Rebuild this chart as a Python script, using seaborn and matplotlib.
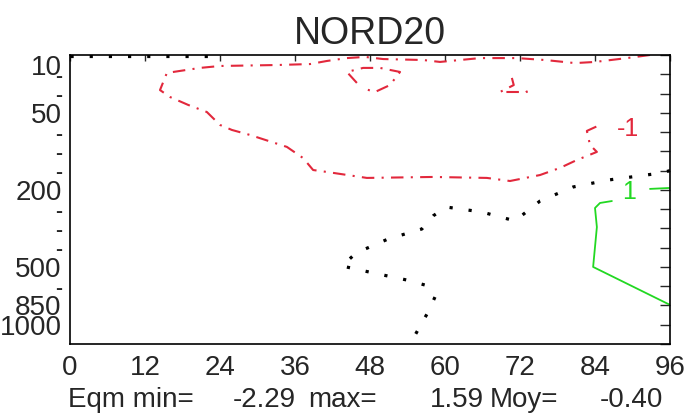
import pandas as pd
import matplotlib
matplotlib.use('Agg')
import matplotlib.pyplot as plt
import seaborn as sns

# Echeances (h) et niveaux (indice de niveau, 0 = 10 hPa en haut)
x_ticks = [0, 12, 24, 36, 48, 60, 72, 84, 96]
lev_labels = ['10', '-', '-', '50', '-', '-', '-', '200', '-', '-', '-', '500', '-', '850', '1000', '']

# Isoligne -1 (rouge, tirets-points)
m1_x = [92.8, 89.1, 84.0, 80.8, 76.0, 71.5, 65.6, 62.4, 59.2, 56.5, 50.1, 47.2, 44.3, 41.1, 38.4, 33.1,
        24.0, 20.8, 15.5, 14.4, 16.0, 18.9, 21.9, 24.0, 25.9, 28.8, 34.7, 37.3, 38.9, 41.1, 47.5, 58.1,
        66.7, 70.4, 75.2, 78.4, 81.1, 84.3, 83.2, 82.7, 84.8]
m1_lev = [0.0, 0.16, 0.36, 0.42, 0.26, 0.16, 0.16, 0.26, 0.36, 0.26, 0.21, 0.10, 0.16, 0.31, 0.47, 0.52,
          0.57, 0.67, 0.93, 1.82, 2.18, 2.59, 2.96, 3.63, 3.89, 4.15, 4.77, 5.35, 5.97, 6.07, 6.38, 6.33,
          6.38, 6.54, 6.23, 5.86, 5.45, 5.03, 4.67, 3.94, 3.63]

# Isolignes -2 (petites zones)
m2a_x = [45.9, 44.3, 46.9, 49.6, 52.8, 51.2, 48.8, 46.7]
m2a_lev = [1.45, 0.88, 0.67, 0.67, 0.88, 1.56, 1.92, 1.71]
m2b_x = [70.7, 71.0, 68.8, 73.1, 72.6]
m2b_lev = [1.19, 1.56, 1.92, 1.92, 1.61]

# Isoligne 0 (noir, pointilles)
z0a_x = [0, 24.5]
z0a_lev = [0.05, 0.05]
z0b_x = [96, 94.7, 86.1, 80.5, 75.2, 71.2, 65.9, 60.2, 58.1, 56.3, 50.9, 45.8, 43.5, 48.5, 53.9,
         56.8, 58.4, 57.3, 54.4]
z0b_lev = [6.0, 6.12, 6.49, 6.85, 7.58, 8.61, 8.15, 7.89, 8.35, 9.03, 9.55, 10.27, 10.95, 11.31,
           11.68, 11.94, 12.56, 13.34, 15.0]

# Isoligne +1 (vert, continu)
p1a_x = [96, 92.8]
p1a_lev = [6.9, 6.95]
p1b_x = [86.7, 84.8, 84.0, 84.3, 83.7, 96]
p1b_lev = [7.58, 7.68, 7.94, 8.93, 11.0, 12.97]

segs = [('m1', -1, m1_x, m1_lev), ('m2a', -1, m2a_x, m2a_lev), ('m2b', -1, m2b_x, m2b_lev),
        ('z0a', 0, z0a_x, z0a_lev), ('z0b', 0, z0b_x, z0b_lev),
        ('p1a', 1, p1a_x, p1a_lev), ('p1b', 1, p1b_x, p1b_lev)]
rows = []
for name, val, xs, ls in segs:
    for xv, lv in zip(xs, ls):
        rows.append({'seg': name, 'val': val, 'x': xv, 'lev': lv})
df = pd.DataFrame(rows)

sns.set_style('white')
plt.rcParams['font.family'] = ['Liberation Sans', 'DejaVu Sans']

fig = plt.figure(figsize=(6.92, 4.2), dpi=100)
ax = fig.add_axes([70 / 692, 1 - 344 / 420, 600 / 692, 289 / 420])

red = '#e2283c'
green = '#22d822'
styles = {-1: (red, (0, (6, 3.5, 1, 3.5)), 1.5),
          0: ('black', (0, (1, 5)), 2.3),
          1: (green, '-', 1.3)}
for val, (col, ls, lw) in styles.items():
    sub = df[df['val'] == val]
    sns.lineplot(data=sub, x='x', y='lev', units='seg', estimator=None, sort=False,
                 color=col, linestyle=ls, linewidth=lw, ax=ax, legend=False)

# etiquettes des isolignes
ax.text(89.3, 3.85, '-1', color=red, fontsize=18, ha='center', va='center')
ax.text(89.4, 7.1, '1', color=green, fontsize=18, ha='center', va='center')

ax.set_xlim(0, 96)
ax.set_ylim(15, 0)
ax.set_xticks(x_ticks)
ax.set_xticklabels([str(v) for v in x_ticks])
ax.set_yticks(range(len(lev_labels)))
ax.set_yticklabels(lev_labels)
ax.set_xlabel('')
ax.set_ylabel('')
ax.tick_params(axis='x', direction='in', length=4, width=1, top=True, labelsize=20, pad=8)
ax.tick_params(axis='y', direction='in', length=7, width=1, right=True, labelsize=20, pad=6)
ax.get_yticklabels()[0].set_va('top')
for lbl in ax.get_yticklabels():
    if lbl.get_text() == '-':
        lbl.set_fontsize(15)
        lbl.set_fontweight('bold')
for sp in ax.spines.values():
    sp.set_color('black')
    sp.set_linewidth(1.2)

ax.set_title('NORD20', fontsize=27, pad=8)

# ligne de statistiques
stats = [('Eqm min=', 68), ('-2.29', 233), ('max=', 308), ('1.59', 430), ('Moy=', 490), ('-0.40', 600)]
for txt, px in stats:
    fig.text(px / 692, 1 - 400 / 420, txt, fontsize=20, ha='left', va='center')

fig.savefig('out.png', dpi=100, facecolor='white')
